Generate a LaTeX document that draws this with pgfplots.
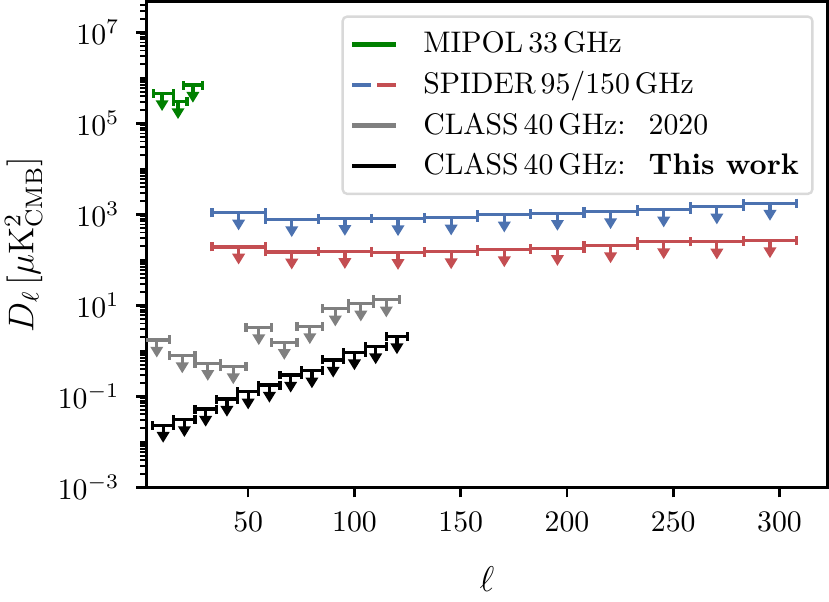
\documentclass[border=0pt]{standalone}
\usepackage{pgfplots}
\pgfplotsset{compat=1.18}
\usepackage{pgfplotstable}

\definecolor{mgreen}{HTML}{008000}
\definecolor{spblue}{HTML}{4C72B0}
\definecolor{spred}{HTML}{C44E52}
\definecolor{cgray}{HTML}{808080}

\pgfdeclareplotmark{ularrow}{%
  \pgfpathmoveto{\pgfqpoint{0pt}{0pt}}%
  \pgfpathlineto{\pgfqpoint{0pt}{-2.7pt}}%
  \pgfusepathqstroke
  \pgfpathmoveto{\pgfqpoint{-2.2pt}{-2.3pt}}%
  \pgfpathlineto{\pgfqpoint{2.2pt}{-2.3pt}}%
  \pgfpathlineto{\pgfqpoint{0pt}{-5.9pt}}%
  \pgfpathclose
  \pgfusepathqfill
}

% columns: ell, upper limit, bin half-width below, above
\pgfplotstableread{
x y xm xp
9.5 4.56e5 4.0 5.5
17 3.04e5 2.0 4.2
24 6.95e5 4.3 4.7
}\mipol

\pgfplotstableread{
x y xm xp
45.5 1084 12.5 12.5
70.5 772 12.5 12.5
95.5 825 12.5 12.5
120.5 812 12.5 12.5
145.5 842 12.5 12.5
170.5 980 12.5 12.5
195.5 1063 12.5 12.5
220.5 1158 12.5 12.5
245.5 1263 12.5 12.5
270.5 1471 12.5 12.5
295.5 1766 12.5 12.5
}\spiderblue

\pgfplotstableread{
x y xm xp
45.5 193 12.5 12.5
70.5 150 12.5 12.5
95.5 154 12.5 12.5
120.5 147 12.5 12.5
145.5 152 12.5 12.5
170.5 168 12.5 12.5
195.5 180 12.5 12.5
220.5 206 12.5 12.5
245.5 253 12.5 12.5
270.5 249 12.5 12.5
295.5 266 12.5 12.5
}\spiderred

\pgfplotstableread{
x y xm xp
7 1.74 6 6
19 0.785 6 6
31 0.535 6 6
43 0.450 6 6
55 3.26 6 6
67 1.55 6 6
79 3.43 6 6
91 8.41 6 6
103 10.8 6 6
115 13.3 6 6
}\classold

\pgfplotstableread{
x y xm xp
10 0.0233 5 5
20 0.0311 5 5
30 0.0525 5 5
40 0.0871 5 5
50 0.126 5 5
60 0.177 5 5
70 0.295 5 5
80 0.367 5 5
90 0.631 5 5
100 0.914 5 5
110 1.24 5 5
120 2.06 5 5
}\classnew

\pgfplotsset{
  ulbars/.style={
    only marks, mark=ularrow, line width=1.1pt,
    error bars/.cd, x dir=both, x explicit,
    error bar style={line width=1.1pt},
    error mark options={rotate=90, line width=1.05pt, mark size=1.5pt},
    /pgfplots/.cd
  }
}

\begin{document}
\begin{tikzpicture}
\begin{axis}[
  scale only axis, width=229pt, height=163.3pt,
  xmin=2, xmax=322.6,
  ymode=log, ymin=1e-3, ymax=4.8e7,
  axis line style={line width=0.95pt},
  xtick={50,100,150,200,250,300},
  ytick={1e-3,1e-1,1e1,1e3,1e5,1e7},
  minor ytick={2e-3,3e-3,4e-3,5e-3,6e-3,7e-3,8e-3,9e-3,1e-2,
    2e-2,3e-2,4e-2,5e-2,6e-2,7e-2,8e-2,9e-2,
    2e-1,3e-1,4e-1,5e-1,6e-1,7e-1,8e-1,9e-1,1,
    2,3,4,5,6,7,8,9,
    20,30,40,50,60,70,80,90,100,
    200,300,400,500,600,700,800,900,
    2e3,3e3,4e3,5e3,6e3,7e3,8e3,9e3,1e4,
    2e4,3e4,4e4,5e4,6e4,7e4,8e4,9e4,
    2e5,3e5,4e5,5e5,6e5,7e5,8e5,9e5,1e6,
    2e6,3e6,4e6,5e6,6e6,7e6,8e6,9e6,
    2e7,3e7,4e7},
  tick align=outside, xtick pos=left, ytick pos=left,
  major tick length=3.4pt, minor tick length=1.9pt,
  every major tick/.append style={line width=0.85pt, black},
  every minor tick/.append style={line width=0.65pt, black},
  yticklabel style={xshift=-2pt},
  xticklabel style={yshift=-1.5pt},
  xlabel={$\ell$},
  ylabel={$D_\ell\,[\mu\mathrm{K}^2_{\mathrm{CMB}}]$},
  label style={font=\large},
  ylabel style={inner sep=1.7pt},
  ylabel shift=0pt,
  xlabel shift=5pt,
  legend cell align=left,
  legend style={at={(1,1)}, anchor=north east, xshift=-4.7pt, yshift=-4.7pt,
    draw=black!15, line width=0.8pt, rounded corners=1.5pt,
    inner xsep=2.5pt, inner ysep=3pt, row sep=0.9pt,
    /tikz/every odd column/.append style={column sep=6.5pt}},
]
\addlegendimage{mgreen, line width=1.6pt, legend image code/.code={\draw (0pt,0pt)--(14.5pt,0pt);}}
\addlegendentry{MIPOL\,33\,GHz}
\addlegendimage{legend image code/.code={\draw[spblue, line width=1.6pt] (0pt,0pt)--(6.2pt,0pt); \draw[spred, line width=1.6pt] (8.3pt,0pt)--(14.5pt,0pt);}}
\addlegendentry{SPIDER\,95/150\,GHz}
\addlegendimage{cgray, line width=1.6pt, legend image code/.code={\draw (0pt,0pt)--(14.5pt,0pt);}}
\addlegendentry{CLASS\,40\,GHz: \ 2020}
\addlegendimage{black, line width=1.6pt, legend image code/.code={\draw (0pt,0pt)--(14.5pt,0pt);}}
\addlegendentry{CLASS\,40\,GHz: \ \textbf{This work}}

\addplot[spblue, forget plot, ulbars] table[x=x, y=y, x error minus=xm, x error plus=xp]{\spiderblue};
\addplot[spred, forget plot, ulbars] table[x=x, y=y, x error minus=xm, x error plus=xp]{\spiderred};
\addplot[mgreen, forget plot, ulbars] table[x=x, y=y, x error minus=xm, x error plus=xp]{\mipol};
\addplot[cgray, forget plot, ulbars] table[x=x, y=y, x error minus=xm, x error plus=xp]{\classold};
\addplot[black, forget plot, ulbars] table[x=x, y=y, x error minus=xm, x error plus=xp]{\classnew};
\end{axis}
\end{tikzpicture}
\end{document}
